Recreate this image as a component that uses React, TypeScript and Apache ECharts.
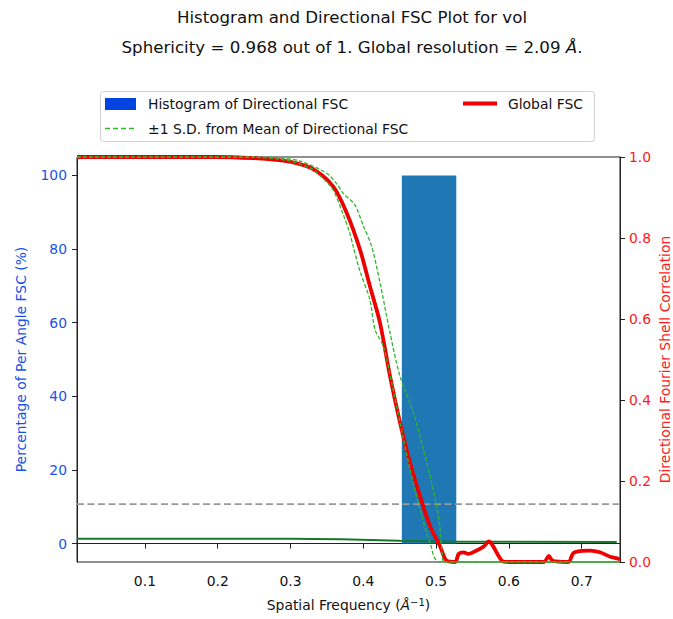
import React, { useEffect, useRef } from "react";
import * as echarts from "echarts";

// ---------- data ----------
const xTicks = [0.1, 0.2, 0.3, 0.4, 0.5, 0.6, 0.7];
const leftTicks = [0, 20, 40, 60, 80, 100];
const freqMin = 0.0067;
const freqMax = 0.7526;

// histogram of directional FSC: [binStart, binEnd, percentage]
const histBins: [number, number, number][] = [[0.4529, 0.5277, 100]];

// global FSC: [spatial frequency, FSC]
const globalFsc: [number, number][] = [
  [0.0067, 1.0], [0.1, 1.0], [0.2, 1.0], [0.25, 0.997], [0.28, 0.993],
  [0.303, 0.987], [0.33, 0.971], [0.3587, 0.927], [0.3772, 0.862],
  [0.3955, 0.771], [0.4092, 0.68], [0.423, 0.59], [0.4368, 0.458],
  [0.4506, 0.343], [0.4643, 0.244], [0.478, 0.162], [0.4918, 0.088],
  [0.5056, 0.0385], [0.514, 0.004], [0.5263, 0.0], [0.5309, 0.02],
  [0.5378, 0.024], [0.544, 0.02], [0.5562, 0.029], [0.5654, 0.038],
  [0.5723, 0.051], [0.577, 0.043], [0.5907, 0.003], [0.6, 0.0],
  [0.648, 0.0], [0.6547, 0.015], [0.66, 0.003], [0.6815, 0.0],
  [0.6884, 0.022], [0.6977, 0.027], [0.7115, 0.028], [0.725, 0.024],
  [0.739, 0.013], [0.7505, 0.008], [0.7526, 0.006],
];

// mean of directional FSC + 1 S.D.
const upperSd: [number, number][] = [
  [0.0067, 1.0], [0.25, 1.0], [0.29, 0.997], [0.313, 0.99], [0.3496, 0.96],
  [0.363, 0.935], [0.3725, 0.91], [0.388, 0.883], [0.4, 0.83],
  [0.4115, 0.779], [0.423, 0.689], [0.4368, 0.565], [0.4505, 0.458],
  [0.4689, 0.368], [0.4826, 0.277], [0.494, 0.195], [0.5033, 0.113],
  [0.5079, 0.03], [0.511, 0.0], [0.7526, 0.0],
];

// mean of directional FSC - 1 S.D.
const lowerSd: [number, number][] = [
  [0.0067, 1.0], [0.25, 0.999], [0.3, 0.99], [0.33, 0.97], [0.34, 0.955],
  [0.358, 0.92], [0.372, 0.86], [0.381, 0.815], [0.386, 0.78],
  [0.395, 0.72], [0.409, 0.648], [0.416, 0.574], [0.4276, 0.532],
  [0.4391, 0.442], [0.4506, 0.343], [0.4643, 0.228], [0.478, 0.129],
  [0.4918, 0.047], [0.5045, 0.0], [0.7526, 0.0],
];

// per-angle percentage baseline (left axis)
const perAngleLine: [number, number][] = [
  [0.0067, 1.3], [0.3, 1.3], [0.37, 1.15], [0.45, 0.75], [0.53, 0.5], [0.7481, 0.45],
];

const fscThreshold = 0.143;

const FONT = "DejaVu Sans";
const BLUE = "#1a52e8";
const RED = "#ee0000";

export default function App() {
  const ref = useRef<HTMLDivElement>(null);
  useEffect(() => {
    if (!ref.current) return;
    const chart = echarts.init(ref.current, undefined, { renderer: "svg" });
    const option: any = {
      animation: false,
      backgroundColor: "#fff",
      title: {
        text:
          "Histogram and Directional FSC Plot for vol\nSphericity = 0.968 out of 1. Global resolution = 2.09 {i|Å}.",
        left: 347,
        top: -3,
        textAlign: "center",
        textStyle: {
          fontFamily: FONT,
          fontSize: 16.67,
          fontWeight: "normal",
          color: "#111",
          lineHeight: 30,
          rich: {
            i: { fontFamily: FONT, fontSize: 16.67, fontStyle: "italic", color: "#111", lineHeight: 30 },
          },
        },
      },
      grid: {
        left: 77,
        right: 53,
        top: 157,
        bottom: 57,
        show: true,
        borderColor: "#222",
        borderWidth: 1,
        backgroundColor: "transparent",
        containLabel: false,
        outerBoundsMode: "none",
      },
      xAxis: {
        type: "value",
        min: freqMin,
        max: freqMax,
        name: "Spatial Frequency ({i|Å}{sup|−1})",
        nameLocation: "middle",
        nameGap: 35,
        nameTextStyle: {
          fontFamily: FONT,
          fontSize: 13.9,
          color: "#111",
          rich: {
            i: { fontFamily: FONT, fontSize: 13.9, fontStyle: "italic", color: "#111" },
            sup: { fontFamily: FONT, fontSize: 10, color: "#111", verticalAlign: "top", padding: [0, 0, 6, 0] },
          },
        },
        axisLine: { show: true, lineStyle: { color: "#222", width: 1 } },
        axisTick: { show: true, length: 5, lineStyle: { color: "#222" }, customValues: xTicks },
        axisLabel: {
          margin: 12,
          fontFamily: FONT,
          fontSize: 13.9,
          color: "#111",
          customValues: xTicks,
          formatter: (v: number) => v.toFixed(1),
        },
        splitLine: { show: false },
      },
      yAxis: [
        {
          type: "value",
          min: -5,
          max: 105,
          position: "left",
          name: "Percentage of Per Angle FSC (%)",
          nameLocation: "middle",
          nameGap: 49,
          nameTextStyle: { fontFamily: FONT, fontSize: 13.9, color: BLUE },
          axisLine: { show: true, lineStyle: { color: "#222", width: 1 } },
          axisTick: { show: true, length: 5, lineStyle: { color: "#222" }, customValues: leftTicks },
          axisLabel: {
            margin: 10,
            fontFamily: FONT,
            fontSize: 13.9,
            color: BLUE,
            customValues: leftTicks,
          },
          splitLine: { show: false },
        },
        {
          type: "value",
          min: 0,
          max: 1,
          interval: 0.2,
          position: "right",
          name: "Directional Fourier Shell Correlation",
          nameLocation: "middle",
          nameGap: 38,
          nameRotate: 90,
          nameMoveOverlap: false,
          nameTextStyle: { fontFamily: FONT, fontSize: 13.9, color: "#ff1a1a" },
          axisLine: { show: true, lineStyle: { color: "#222", width: 1 } },
          axisTick: { show: true, length: 5, lineStyle: { color: "#222" } },
          axisLabel: {
            margin: 9,
            fontFamily: FONT,
            fontSize: 13.9,
            color: "#ff1a1a",
            formatter: (v: number) => v.toFixed(1),
          },
          splitLine: { show: false },
        },
      ],
      series: [
        {
          name: "Histogram of Directional FSC",
          type: "custom",
          xAxisIndex: 0,
          yAxisIndex: 0,
          z: 1,
          encode: { x: [0, 1], y: 2 },
          data: histBins,
          renderItem: (params: any, api: any) => {
            const p0 = api.coord([api.value(0), api.value(2)]);
            const p1 = api.coord([api.value(1), 0]);
            return {
              type: "rect",
              shape: { x: p0[0], y: p0[1], width: p1[0] - p0[0], height: p1[1] - p0[1] },
              style: { fill: "#1f77b4" },
            };
          },
        },
        {
          name: "Per angle",
          type: "line",
          yAxisIndex: 0,
          z: 2,
          data: perAngleLine,
          smooth: 0.4,
          showSymbol: false,
          lineStyle: { color: "#16782e", width: 2 },
        },
        {
          name: "FSC 0.143",
          type: "line",
          yAxisIndex: 1,
          z: 3,
          data: [[freqMin, fscThreshold], [freqMax, fscThreshold]],
          showSymbol: false,
          lineStyle: { color: "#999999", width: 1.8, type: [7, 3.5] },
        },
        {
          name: "Global FSC",
          type: "line",
          yAxisIndex: 1,
          z: 4,
          data: globalFsc,
          smooth: 0.3,
          showSymbol: false,
          lineStyle: { color: RED, width: 3.8 },
        },
        {
          name: "+1 S.D.",
          type: "line",
          yAxisIndex: 1,
          z: 5,
          data: upperSd,
          smooth: 0.3,
          showSymbol: false,
          lineStyle: { color: "#2db82d", width: 1.3, type: [4, 2] },
        },
        {
          name: "-1 S.D.",
          type: "line",
          yAxisIndex: 1,
          z: 5,
          data: lowerSd,
          smooth: 0.3,
          showSymbol: false,
          lineStyle: { color: "#2db82d", width: 1.3, type: [4, 2] },
        },
      ],
      graphic: [
        {
          type: "rect",
          shape: { x: 100.5, y: 91.5, width: 494, height: 50, r: 3 },
          style: { fill: "#fff", stroke: "#d0d0d0", lineWidth: 1 },
        },
        {
          type: "rect",
          shape: { x: 105, y: 98, width: 31, height: 12 },
          style: { fill: "#0343df" },
        },
        {
          type: "text",
          x: 148,
          y: 104,
          style: { text: "Histogram of Directional FSC", font: `13.9px '${FONT}'`, fill: "#111", verticalAlign: "middle" },
        },
        {
          type: "line",
          shape: { x1: 105, y1: 128.5, x2: 136, y2: 128.5 },
          style: { stroke: "#2db82d", lineWidth: 1.5, lineDash: [5, 3] },
        },
        {
          type: "text",
          x: 148,
          y: 128.5,
          style: { text: "±1 S.D. from Mean of Directional FSC", font: `13.9px '${FONT}'`, fill: "#111", verticalAlign: "middle" },
        },
        {
          type: "line",
          shape: { x1: 463, y1: 103.5, x2: 497, y2: 103.5 },
          style: { stroke: RED, lineWidth: 4 },
        },
        {
          type: "text",
          x: 508,
          y: 104,
          style: { text: "Global FSC", font: `13.9px '${FONT}'`, fill: "#111", verticalAlign: "middle" },
        },
      ],
    };
    chart.setOption(option);
    return () => chart.dispose();
  }, []);
  return <div ref={ref} style={{ width: 673, height: 619, position: "absolute", left: 0, top: 0 }} />;
}
